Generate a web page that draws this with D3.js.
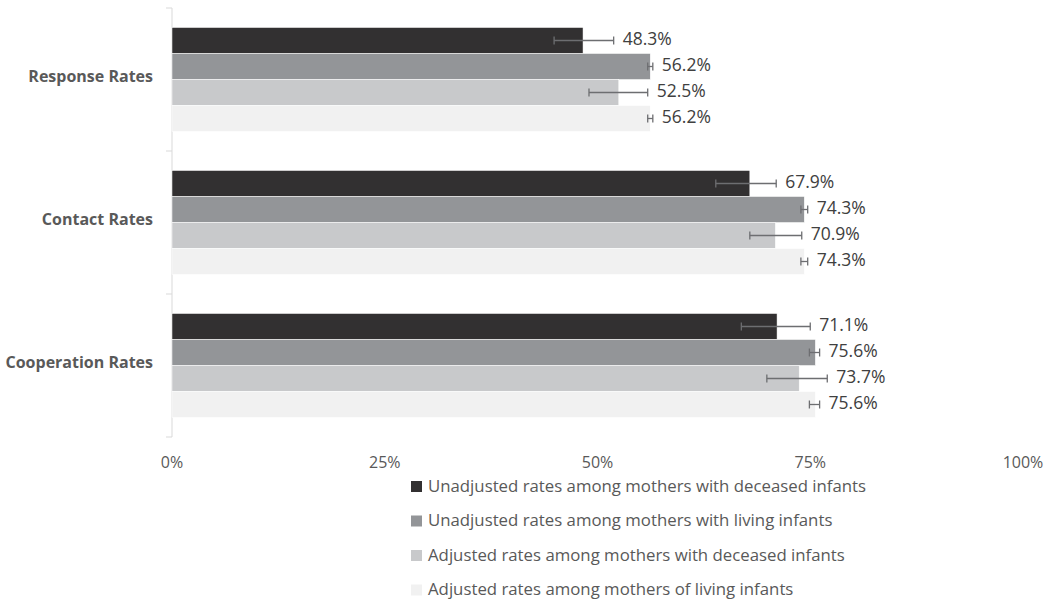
<!DOCTYPE html>
<html>
<head>
<meta charset="utf-8">
<script src="https://cdn.jsdelivr.net/npm/d3@7/dist/d3.min.js"></script>
<style>
  html, body { margin: 0; padding: 0; background: #fff; }
  svg { display: block; font-family: "Open Sans", "Noto Sans", sans-serif; }
</style>
</head>
<body>
<svg id="chart" width="1050" height="604"></svg>
<script>
const categories = ["Response Rates", "Contact Rates", "Cooperation Rates"];
const seriesNames = [
  "Unadjusted rates among mothers with deceased infants",
  "Unadjusted rates among mothers with living infants",
  "Adjusted rates among mothers with deceased infants",
  "Adjusted rates among mothers of living infants"
];
const seriesColors = ["#323031", "#939598", "#c8c9cb", "#f1f1f1"];

const unadjDeceased = [48.3, 67.9, 71.1];
const unadjLiving   = [56.2, 74.3, 75.6];
const adjDeceased   = [52.5, 70.9, 73.7];
const adjLiving     = [56.2, 74.3, 75.6];

const unadjDeceasedLow  = [44.9, 63.9, 66.9];
const unadjDeceasedHigh = [51.9, 71.0, 75.0];
const unadjLivingLow    = [55.9, 73.9, 74.9];
const unadjLivingHigh   = [56.5, 74.7, 76.1];
const adjDeceasedLow    = [49.0, 67.9, 69.9];
const adjDeceasedHigh   = [55.9, 74.0, 77.0];
const adjLivingLow      = [55.9, 73.9, 74.9];
const adjLivingHigh     = [56.5, 74.7, 76.1];

const tickValues = [0, 25, 50, 75, 100];

const seriesValues = [unadjDeceased, unadjLiving, adjDeceased, adjLiving];
const seriesLow = [unadjDeceasedLow, unadjLivingLow, adjDeceasedLow, adjLivingLow];
const seriesHigh = [unadjDeceasedHigh, unadjLivingHigh, adjDeceasedHigh, adjLivingHigh];

const rows = [];
categories.forEach((c, ci) => {
  seriesNames.forEach((s, si) => {
    rows.push({cat: c, series: s, si, value: seriesValues[si][ci], low: seriesLow[si][ci], high: seriesHigh[si][ci]});
  });
});

const svg = d3.select("#chart");
const x = d3.scaleLinear().domain([0, 100]).range([172, 1023]);
const y0 = d3.scaleBand().domain(categories).range([8, 437]);
const y1 = d3.scaleBand().domain(seriesNames).range([0, y0.bandwidth()]).paddingInner(0).paddingOuter(0.75);

// axis line and ticks
const axisG = svg.append("g");
axisG.append("line").attr("x1", x(0)).attr("x2", x(0)).attr("y1", 8).attr("y2", 437)
  .attr("stroke", "#d9d9d9").attr("stroke-width", 1);
const boundaries = [8].concat(categories.map(c => y0(c) + y0.bandwidth()));
axisG.selectAll("line.tk").data(boundaries).enter().append("line")
  .attr("class", "tk")
  .attr("x1", x(0) - 6).attr("x2", x(0)).attr("y1", d => d).attr("y2", d => d)
  .attr("stroke", "#d9d9d9").attr("stroke-width", 1);

// category labels
svg.selectAll("text.cat").data(categories).enter().append("text")
  .attr("class", "cat")
  .attr("x", 153)
  .attr("y", d => y0(d) + y0.bandwidth() / 2 - 1.5)
  .attr("text-anchor", "end")
  .attr("dominant-baseline", "middle")
  .attr("font-size", 16)
  .attr("font-weight", "bold")
  .attr("fill", "#595959")
  .text(d => d);

// bars
svg.selectAll("rect.bar").data(rows).enter().append("rect")
  .attr("class", "bar")
  .attr("x", x(0))
  .attr("y", d => y0(d.cat) + y1(d.series))
  .attr("width", d => x(d.value) - x(0))
  .attr("height", y1.bandwidth())
  .attr("fill", d => seriesColors[d.si])
  .attr("stroke", "#ffffff")
  .attr("stroke-width", 0.5);

// error bars
const eg = svg.append("g").attr("stroke", "#6d6e71").attr("stroke-width", 1.3);
rows.forEach(d => {
  const cy = y0(d.cat) + y1(d.series) + y1.bandwidth() / 2;
  eg.append("line").attr("x1", x(d.low)).attr("x2", x(d.high)).attr("y1", cy).attr("y2", cy);
  eg.append("line").attr("x1", x(d.low)).attr("x2", x(d.low)).attr("y1", cy - 4).attr("y2", cy + 4);
  eg.append("line").attr("x1", x(d.high)).attr("x2", x(d.high)).attr("y1", cy - 4).attr("y2", cy + 4);
});

// value labels
svg.selectAll("text.val").data(rows).enter().append("text")
  .attr("class", "val")
  .attr("x", d => Math.max(x(d.value), x(d.high)) + 9)
  .attr("y", d => y0(d.cat) + y1(d.series) + y1.bandwidth() / 2)
  .attr("dominant-baseline", "middle")
  .attr("font-size", 17.5)
  .attr("fill", "#404040")
  .text(d => d.value.toFixed(1) + "%");

// x tick labels
svg.selectAll("text.xt").data(tickValues).enter().append("text")
  .attr("class", "xt")
  .attr("x", d => x(d))
  .attr("y", 464)
  .attr("text-anchor", "middle")
  .attr("dominant-baseline", "middle")
  .attr("font-size", 16)
  .attr("fill", "#595959")
  .text(d => d + "%");

// legend
const lg = svg.append("g");
seriesNames.forEach((s, i) => {
  const ly = 487 + i * 34.5;
  lg.append("rect").attr("x", 411).attr("y", ly - 6).attr("width", 11).attr("height", 11)
    .attr("fill", seriesColors[i]);
  lg.append("text").attr("x", 428).attr("y", ly).attr("dominant-baseline", "middle")
    .attr("font-size", 16.8).attr("fill", "#595959").text(s);
});
</script>
</body>
</html>
